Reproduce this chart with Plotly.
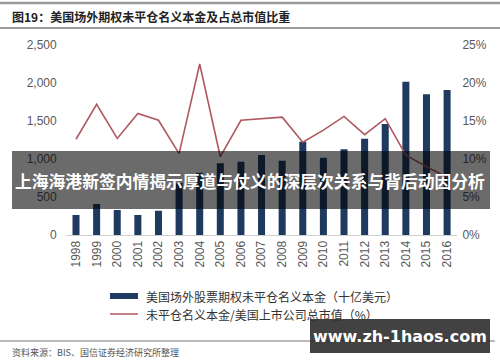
import plotly.graph_objects as go

W, H = 500, 362

years = [str(y) for y in range(1998, 2017)]
notional_bn = [263, 408, 329, 263, 318, 684, 820, 943, 965, 1053,
               978, 1228, 1017, 1127, 1267, 1460, 2018, 1851, 1908]
ratio_pct = [12.6, 17.2, 12.7, 16.0, 15.1, 10.7, 22.5, 10.3, 15.1, 15.3,
             15.5, 12.2, 13.8, 15.6, 13.2, 15.3, 10.5, 9.0, 7.6]

left_ticks = [0, 500, 1000, 1500, 2000, 2500]
left_labels = ["0", "500", "1,000", "1,500", "2,000", "2,500"]
right_ticks = [0, 5, 10, 15, 20, 25]
right_labels = ["0%", "5%", "10%", "15%", "20%", "25%"]

title_text = "图19：美国场外期权未平仓名义本金及占总市值比重"
legend_bar = "美国场外股票期权未平仓名义本金（十亿美元）"
legend_line = "未平仓名义本金/美国上市公司总市值（%）"
source_text = "资料来源：BIS、国信证券经济研究所整理"
banner_text = "上海海港新签内情揭示厚道与仗义的深层次关系与背后动因分析"
watermark = "www.zh-1haos.com"

BAR = "#1f3a5f"
LINE = "#b0585f"
TICK = "#595959"
CJK = "Noto Sans CJK SC"
LAT = "Liberation Sans, Arial"


def px(x):
    return x / W


def py(y):
    return 1 - y / H


fig = go.Figure()
fig.add_trace(go.Bar(x=years, y=notional_bn, marker_color=BAR, yaxis="y",
                     name=legend_bar, showlegend=False))
fig.add_trace(go.Scatter(x=years, y=ratio_pct, mode="lines", yaxis="y2",
                         line=dict(color=LINE, width=1.6), name=legend_line,
                         showlegend=False))

y_bot, y_top = 235, 45
fig.update_layout(
    width=W, height=H, template="none",
    margin=dict(l=0, r=0, t=0, b=0),
    paper_bgcolor="white", plot_bgcolor="rgba(0,0,0,0)",
    bargap=0.66,
    xaxis=dict(domain=[px(65.7), px(457.4)], type="category",
               tickangle=-90, tickfont=dict(family=LAT, size=12, color=TICK),
               showline=True, linecolor="#d0d0d0", linewidth=1,
               showgrid=False, ticks="", automargin=False, ticklen=0),
    yaxis=dict(domain=[py(y_bot), py(y_top)], range=[0, 2500],
               tickvals=left_ticks, ticktext=left_labels,
               tickfont=dict(family=LAT, size=12, color=TICK),
               showgrid=False, zeroline=False, showline=False,
               automargin=False, ticks="", ticklabelstandoff=8),
    yaxis2=dict(domain=[py(y_bot), py(y_top)], range=[0, 25], overlaying="y",
                side="right", anchor="x",
                tickvals=right_ticks, ticktext=right_labels,
                tickfont=dict(family=LAT, size=12, color=TICK),
                showgrid=False, zeroline=False, showline=False,
                automargin=False, ticks="", ticklabelstandoff=4),
)

shapes = []
annotations = []

# header lines
shapes.append(dict(type="line", xref="paper", yref="paper", x0=0, x1=1,
                   y0=py(3), y1=py(3), line=dict(color="#9a9a9a", width=2.5)))
shapes.append(dict(type="line", xref="paper", yref="paper", x0=0, x1=1,
                   y0=py(28), y1=py(28), line=dict(color="#7a7a7a", width=1.5)))
annotations.append(dict(text="<b>" + title_text + "</b>", xref="paper", yref="paper",
                        x=px(10), y=py(16), xanchor="left", yanchor="middle",
                        showarrow=False, font=dict(family=CJK, size=12, color="#222")))

# legend
shapes.append(dict(type="rect", xref="paper", yref="paper", x0=px(110), x1=px(138),
                   y0=py(299), y1=py(293), fillcolor=BAR, line=dict(width=0)))
shapes.append(dict(type="line", xref="paper", yref="paper", x0=px(110), x1=px(138),
                   y0=py(314), y1=py(314), line=dict(color=LINE, width=1.5)))
annotations.append(dict(text=legend_bar, xref="paper", yref="paper", x=px(144), y=py(296),
                        xanchor="left", yanchor="middle", showarrow=False,
                        font=dict(family=CJK, size=12, color="#333")))
annotations.append(dict(text=legend_line, xref="paper", yref="paper", x=px(144), y=py(314),
                        xanchor="left", yanchor="middle", showarrow=False,
                        font=dict(family=CJK, size=12, color="#333")))

# footer
shapes.append(dict(type="line", xref="paper", yref="paper", x0=0, x1=px(495),
                   y0=py(341), y1=py(341), line=dict(color="#777", width=1.2)))
annotations.append(dict(text=source_text, xref="paper", yref="paper", x=px(10), y=py(352),
                        xanchor="left", yanchor="middle", showarrow=False,
                        font=dict(family=CJK, size=9, color="#555")))

# overlay banner
shapes.append(dict(type="rect", xref="paper", yref="paper", x0=px(12), x1=px(490),
                   y0=py(209), y1=py(151), fillcolor="rgba(0,0,0,0.58)",
                   line=dict(width=0), layer="above"))
annotations.append(dict(text="<b>" + banner_text + "</b>", xref="paper", yref="paper",
                        x=px(250), y=py(181), xanchor="center", yanchor="middle",
                        showarrow=False, font=dict(family=CJK, size=16.8, color="white")))

# watermark box
shapes.append(dict(type="rect", xref="paper", yref="paper", x0=px(310), x1=px(490),
                   y0=py(353), y1=py(319), fillcolor="rgba(40,40,40,0.88)",
                   line=dict(width=0), layer="above"))
annotations.append(dict(text="<b>" + watermark + "</b>", xref="paper", yref="paper",
                        x=px(400), y=py(336), xanchor="center", yanchor="middle",
                        showarrow=False, font=dict(family="DejaVu Sans", size=16, color="white")))

fig.update_layout(shapes=shapes, annotations=annotations)
fig.write_html("out.html", config={"displayModeBar": False},
               post_script="document.body.style.margin='0';document.body.style.overflow='hidden';")
